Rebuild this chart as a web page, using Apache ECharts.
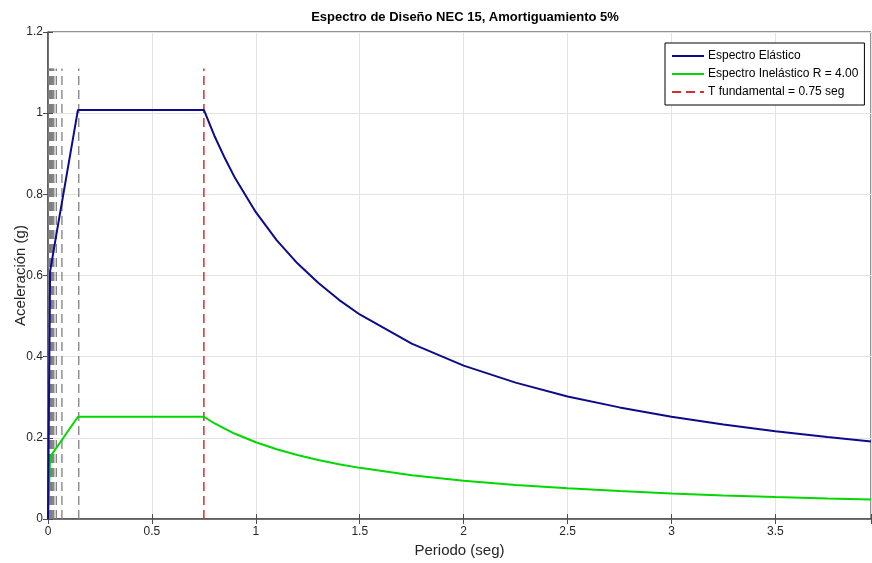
<!DOCTYPE html>
<html>
<head>
<meta charset="utf-8">
<script src="https://cdn.jsdelivr.net/npm/echarts@6/dist/echarts.min.js"></script>
<style>html,body{margin:0;padding:0;background:#fff}#c{width:872px;height:563px}</style>
</head>
<body>
<div id="c"></div>
<script>
// Periods (s) and spectral accelerations (g)
const periods = [0, 0.01, 0.04, 0.144, 0.3, 0.5, 0.75, 0.8, 0.85, 0.9, 1.0, 1.1, 1.2, 1.3, 1.4, 1.5, 1.75, 2.0, 2.25, 2.5, 2.75, 3.0, 3.25, 3.5, 3.75, 3.96];
const elastic = [0, 0.61, 0.70, 1.008, 1.008, 1.008, 1.008, 0.945, 0.89, 0.84, 0.756, 0.687, 0.63, 0.582, 0.54, 0.504, 0.432, 0.378, 0.336, 0.302, 0.275, 0.252, 0.233, 0.216, 0.202, 0.191];
const inelastic = [0, 0.153, 0.175, 0.252, 0.252, 0.252, 0.252, 0.236, 0.2225, 0.21, 0.189, 0.172, 0.1575, 0.1455, 0.135, 0.126, 0.108, 0.0945, 0.084, 0.0755, 0.069, 0.063, 0.058, 0.054, 0.0505, 0.048];
const modalPeriods = [0.002, 0.005, 0.008, 0.011, 0.014, 0.017, 0.020, 0.024, 0.028, 0.04, 0.067, 0.148];
const tFundamental = 0.75;
const dashTop = 1.11;
const xTicks = [0, 0.5, 1, 1.5, 2, 2.5, 3, 3.5];
const yTicks = [0, 0.2, 0.4, 0.6, 0.8, 1, 1.2];

const chart = echarts.init(document.getElementById('c'), null, {renderer: 'canvas'});
const font = 'Liberation Sans, Arial, Helvetica, sans-serif';

const grayLines = modalPeriods.map(t => ({
  type: 'line', silent: true, symbol: 'none', z: 1,
  data: [[t, 0], [t, dashTop]],
  lineStyle: {color: '#7f7f7f', width: 1.3, type: [9, 5]}
}));

chart.setOption({
  animation: false,
  backgroundColor: '#fff',
  title: {
    text: 'Espectro de Diseño NEC 15, Amortiguamiento 5%',
    left: 460, textAlign: 'center', top: 6,
    textStyle: {fontFamily: font, fontWeight: 'bold', fontSize: 13, color: '#000'}
  },
  legend: {
    data: ['Espectro Elástico', 'Espectro Inelástico R = 4.00', 'T fundamental = 0.75 seg'],
    orient: 'vertical', left: 665, top: 43,
    itemWidth: 32, itemHeight: 14, itemGap: 6,
    padding: [7, 6, 7, 6],
    borderColor: '#000', borderWidth: 1, backgroundColor: '#fff',
    itemStyle: {opacity: 0},
    textStyle: {fontFamily: font, fontSize: 12, color: '#000', padding: [0, 0, 0, -1]}
  },
  grid: {left: 48, right: 1, top: 32, bottom: 44, show: true, borderColor: '#262626', borderWidth: 1,
    outerBoundsMode: 'none', containLabel: false},
  xAxis: [{
    type: 'value', min: 0, max: 3.96, interval: 0.5,
    name: 'Periodo (seg)', nameLocation: 'middle', nameGap: 24, nameMoveOverlap: false,
    nameTextStyle: {fontFamily: font, fontSize: 15, color: '#262626'},
    axisLine: {show: true, lineStyle: {color: '#4d4d4d', width: 1.5}},
    axisTick: {show: true, inside: true, length: 5, lineStyle: {color: '#4d4d4d'}},
    axisLabel: {fontFamily: font, fontSize: 12, color: '#262626', margin: 7,
      formatter: v => xTicks.includes(v) ? String(v) : ''},
    splitLine: {show: true, lineStyle: {color: '#e3e3e3', width: 1}}
  }, {
    type: 'value', position: 'top', min: 0, max: 3.96, interval: 0.5,
    axisLine: {show: false}, axisLabel: {show: false}, splitLine: {show: false},
    axisTick: {show: true, inside: true, length: 5, lineStyle: {color: '#4d4d4d'}}
  }],
  yAxis: [{
    type: 'value', min: 0, max: 1.2, interval: 0.2,
    name: 'Aceleración (g)', nameLocation: 'middle', nameGap: 20, nameMoveOverlap: false,
    nameTextStyle: {fontFamily: font, fontSize: 15, color: '#262626'},
    axisLine: {show: true, lineStyle: {color: '#4d4d4d', width: 1.5}},
    axisTick: {show: true, inside: true, length: 5, lineStyle: {color: '#4d4d4d'}},
    axisLabel: {fontFamily: font, fontSize: 12, color: '#262626', margin: 5,
      formatter: v => { const r = Math.round(v * 10) / 10; return yTicks.includes(r) ? String(r) : ''; }},
    splitLine: {show: true, lineStyle: {color: '#e3e3e3', width: 1}}
  }, {
    type: 'value', position: 'right', min: 0, max: 1.2, interval: 0.2,
    axisLine: {show: false}, axisLabel: {show: false}, splitLine: {show: false},
    axisTick: {show: true, inside: true, length: 5, lineStyle: {color: '#4d4d4d'}}
  }],
  series: [
    ...grayLines,
    {
      name: 'T fundamental = 0.75 seg', type: 'line', symbol: 'none', z: 2,
      data: [[tFundamental, 0], [tFundamental, dashTop]],
      lineStyle: {color: '#d62f2f', width: 1.5, type: [9, 5]},
      itemStyle: {color: '#d62f2f'}
    },
    {
      name: 'Espectro Elástico', type: 'line', symbol: 'none', z: 4,
      data: periods.map((t, i) => [t, elastic[i]]),
      lineStyle: {color: '#0b0b8c', width: 2},
      itemStyle: {color: '#0b0b8c'}
    },
    {
      name: 'Espectro Inelástico R = 4.00', type: 'line', symbol: 'none', z: 3,
      data: periods.map((t, i) => [t, inelastic[i]]),
      lineStyle: {color: '#00d800', width: 2},
      itemStyle: {color: '#00d800'}
    }
  ]
});
</script>
</body>
</html>
